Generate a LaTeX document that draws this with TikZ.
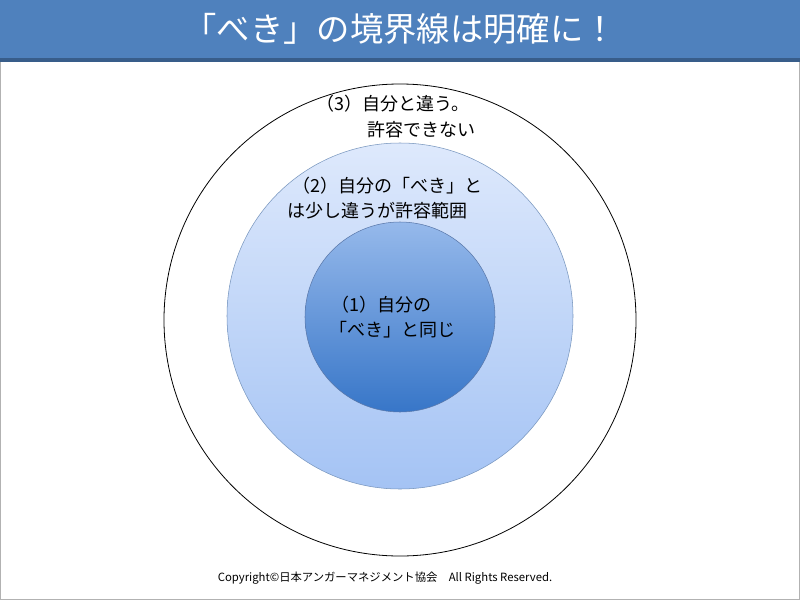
\documentclass[tikz,border=0pt]{standalone}
\usepackage{fontspec}
\setmainfont{Noto Sans CJK JP}
\begin{document}
\begin{tikzpicture}[x=0.75pt,y=-0.75pt,
  lbl/.style={anchor=west,inner sep=0pt,font=\fontsize{13.5pt}{16pt}\selectfont}]
\useasboundingbox (0,0) rectangle (800,600);
\fill[white] (0,0) rectangle (800,600);
\draw[gray!60] (0.5,0.5) rectangle (799.5,599.5);
\fill[fill={rgb,255:red,79;green,129;blue,189}] (0,0) rectangle (800,60);
\fill[fill={rgb,255:red,56;green,93;blue,138}] (0,58) rectangle (800,62);
\node[text=white,font=\fontsize{25pt}{30pt}\selectfont] (title) at (400,29) {「べき」の境界線は明確に！};
\draw[black,line width=0.6pt] (400,320) circle[radius=236] coordinate (outer);
\shade[top color={rgb,255:red,222;green,233;blue,252},bottom color={rgb,255:red,164;green,195;blue,244},draw={rgb,255:red,120;green,150;blue,190}] (400,316) circle[radius=173];
\shade[top color={rgb,255:red,150;green,185;blue,235},bottom color={rgb,255:red,55;green,118;blue,200},draw={rgb,255:red,90;green,120;blue,170}] (400,317) circle[radius=95];
\node[lbl] (t3a) at (316,104) {（3）自分と違う。};
\node[lbl] (t3b) at (367,130) {許容できない};
\node[lbl] (t2a) at (292,186) {（2）自分の「べき」と};
\node[lbl] (t2b) at (287,211) {は少し違うが許容範囲};
\node[lbl] (t1a) at (331,305) {（1）自分の};
\node[lbl] (t1b) at (329,330) {「べき」と同じ};
\node[font=\fontsize{8.5pt}{10pt}\selectfont] (copy) at (385,578) {Copyright©日本アンガーマネジメント協会　All Rights Reserved.};
\end{tikzpicture}
\end{document}
